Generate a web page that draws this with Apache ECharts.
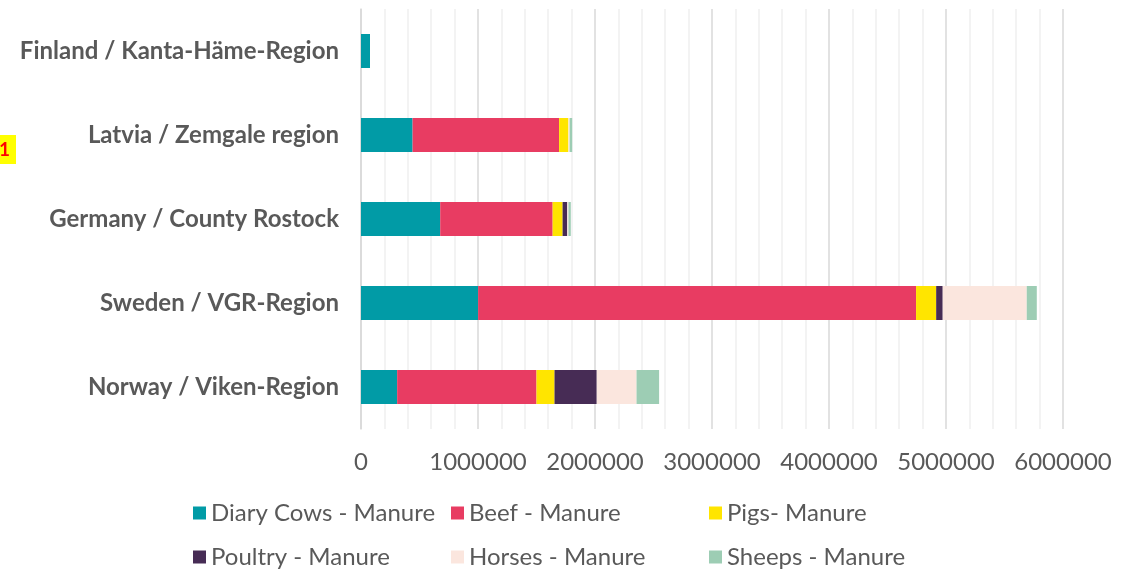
<!DOCTYPE html>
<html>
<head>
<meta charset="utf-8">
<script src="https://cdn.jsdelivr.net/npm/echarts@6/dist/echarts.min.js"></script>
<style>
    html, body { margin: 0; padding: 0; background: #fff; }
    #chart { width: 1131px; height: 570px; }
</style>
</head>
<body>
<div id="chart"></div>
<script>
    // regions, bottom to top (category axis draws from the bottom)
    let regions = ['Norway / Viken-Region', 'Sweden / VGR-Region', 'Germany / County Rostock',
        'Latvia / Zemgale region', 'Finland / Kanta-Häme-Region'];
    let seriesNames = ['Diary Cows - Manure', 'Beef - Manure', 'Pigs- Manure',
        'Poultry - Manure', 'Horses - Manure', 'Sheeps - Manure'];
    let dairyCows = [309000, 1001000, 677000, 441000, 77000];
    let beef = [1191000, 3743000, 961000, 1252000, 0];
    let pigs = [154000, 172000, 85000, 80000, 0];
    let poultry = [361000, 56000, 40000, 0, 0];
    let horses = [340000, 718000, 10000, 10000, 0];
    let sheeps = [193000, 86000, 20000, 22000, 0];
    let xTicks = [0, 1000000, 2000000, 3000000, 4000000, 5000000, 6000000];

    let colors = ['#019BA6', '#E83C62', '#FFE500', '#472C55', '#FBE6DE', '#9DCDB4'];
    let values = [dairyCows, beef, pigs, poultry, horses, sheeps];

    let textColor = '#595959';
    let font = 'Lato';

    let myChart = echarts.init(document.getElementById('chart'), null, {renderer: 'canvas'});

    // one legend per item so the columns sit at fixed places like the original
    let legendSpots = [[188, 494], [446, 494], [704, 494], [188, 538], [446, 538], [704, 538]];
    let legends = seriesNames.map((name, i) => {
        return {
            left: legendSpots[i][0],
            top: legendSpots[i][1],
            itemWidth: 13,
            itemHeight: 13,
            icon: 'rect',
            data: [name],
            textStyle: {color: textColor, fontFamily: font, fontSize: 24, lineHeight: 28}
        };
    });

    let option = {
        animation: false,
        grid: {left: 361, right: 68, top: 9, height: 420, containLabel: false},
        xAxis: {
            type: 'value',
            min: xTicks[0],
            max: xTicks[xTicks.length - 1],
            interval: 1000000,
            axisLine: {show: false},
            axisTick: {show: false},
            axisLabel: {
                color: textColor, fontFamily: font, fontSize: 24, margin: 21,
                formatter: (v) => String(v)
            },
            splitLine: {show: true, lineStyle: {color: '#D9D9D9', width: 1.5}},
            minorTick: {show: false, splitNumber: 5},
            minorSplitLine: {show: true, lineStyle: {color: '#EFEFEF', width: 1.5}}
        },
        yAxis: {
            type: 'category',
            data: regions,
            axisLine: {show: true, lineStyle: {color: '#D9D9D9', width: 1.5}},
            axisTick: {show: false},
            axisLabel: {color: textColor, fontFamily: font, fontSize: 24, fontWeight: 'bold', margin: 22}
        },
        legend: legends,
        graphic: [{
            type: 'text',
            left: -7,
            top: 135,
            style: {
                text: '1',
                fill: '#FF0000',
                font: 'bold 19px Lato',
                backgroundColor: '#FFFF00',
                padding: [5, 6, 5, 6]
            }
        }],
        series: seriesNames.map((name, i) => {
            return {
                name: name,
                type: 'bar',
                stack: 'total',
                barWidth: 34,
                itemStyle: {color: colors[i]},
                data: values[i]
            };
        })
    };
    myChart.setOption(option);
</script>
</body>
</html>
